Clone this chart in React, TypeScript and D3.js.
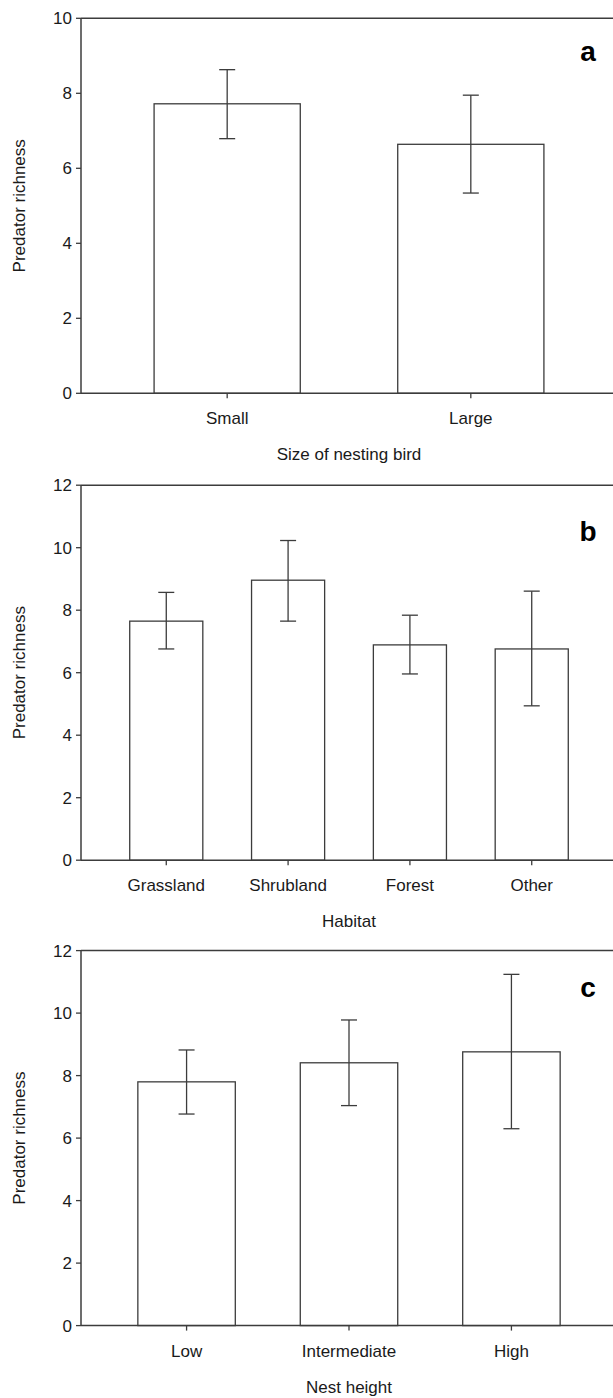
import React from "react";
import * as d3 from "d3";

// ---- Data ----
const sizeCategories = ["Small", "Large"];
const sizeMeans = [7.72, 6.64];
const sizeLower = [6.79, 5.34];
const sizeUpper = [8.63, 7.95];
const sizeTicks = [0, 2, 4, 6, 8, 10];

const habitatCategories = ["Grassland", "Shrubland", "Forest", "Other"];
const habitatMeans = [7.65, 8.96, 6.89, 6.76];
const habitatLower = [6.76, 7.65, 5.96, 4.94];
const habitatUpper = [8.57, 10.23, 7.84, 8.61];
const habitatTicks = [0, 2, 4, 6, 8, 10, 12];

const heightCategories = ["Low", "Intermediate", "High"];
const heightMeans = [7.8, 8.41, 8.76];
const heightLower = [6.77, 7.04, 6.3];
const heightUpper = [8.82, 9.78, 11.24];
const heightTicks = [0, 2, 4, 6, 8, 10, 12];

const yTitle = "Predator richness";

const FONT = "'Liberation Sans', Arial, Helvetica, sans-serif";
const LINE = "#3c3c3c";
const TEXT = "#1a1a1a";

type PanelProps = {
  top: number;
  categories: string[];
  means: number[];
  lower: number[];
  upper: number[];
  ticks: number[];
  xTitle: string;
  letter: string;
  letterY: number;
  outerPad: number;
};

const LEFT = 81;
const AXIS_W = 536;
const PLOT_H = 375;

function Panel(p: PanelProps) {
  const yMax = p.ticks[p.ticks.length - 1];
  const y = d3.scaleLinear().domain([0, yMax]).range([p.top + PLOT_H, p.top]);
  const x = d3
    .scaleBand<string>()
    .domain(p.categories)
    .range([LEFT, LEFT + AXIS_W])
    .paddingInner(0.4)
    .paddingOuter(p.outerPad);
  const bw = x.bandwidth();
  const y0 = y(0);
  const cap = 8;
  return (
    <g>
      {/* bars */}
      {p.categories.map((c, i) => (
        <rect
          key={"b" + c}
          x={x(c)!}
          y={y(p.means[i])}
          width={bw}
          height={y0 - y(p.means[i])}
          fill="#fff"
          stroke={LINE}
          strokeWidth={1.3}
        />
      ))}
      {/* error bars */}
      {p.categories.map((c, i) => {
        const cx = x(c)! + bw / 2;
        return (
          <g key={"e" + c} stroke={LINE} strokeWidth={1.3}>
            <line x1={cx} x2={cx} y1={y(p.lower[i])} y2={y(p.upper[i])} />
            <line x1={cx - cap} x2={cx + cap} y1={y(p.upper[i])} y2={y(p.upper[i])} />
            <line x1={cx - cap} x2={cx + cap} y1={y(p.lower[i])} y2={y(p.lower[i])} />
          </g>
        );
      })}
      {/* frame lines */}
      <line x1={LEFT} x2={LEFT + AXIS_W + 10} y1={p.top} y2={p.top} stroke={LINE} strokeWidth={1.5} />
      <line x1={LEFT} x2={LEFT + AXIS_W + 10} y1={y0} y2={y0} stroke={LINE} strokeWidth={1.5} />
      <line x1={LEFT} x2={LEFT} y1={p.top} y2={y0} stroke={LINE} strokeWidth={1.5} />
      {/* y ticks */}
      {p.ticks.map((t) => (
        <g key={"yt" + t}>
          <line x1={LEFT - 5} x2={LEFT} y1={y(t)} y2={y(t)} stroke={LINE} strokeWidth={1.3} />
          <text
            x={LEFT - 9}
            y={y(t)}
            dy="0.36em"
            textAnchor="end"
            fontSize={17}
            fontFamily={FONT}
            fill={TEXT}
          >
            {t}
          </text>
        </g>
      ))}
      {/* x ticks */}
      {p.categories.map((c) => {
        const cx = x(c)! + bw / 2;
        return (
          <g key={"xt" + c}>
            <line x1={cx} x2={cx} y1={y0} y2={y0 + 5} stroke={LINE} strokeWidth={1.3} />
            <text
              x={cx}
              y={y0 + 31}
              textAnchor="middle"
              fontSize={17}
              fontFamily={FONT}
              fill={TEXT}
            >
              {c}
            </text>
          </g>
        );
      })}
      {/* titles */}
      <text
        x={LEFT + AXIS_W / 2}
        y={y0 + 67}
        textAnchor="middle"
        fontSize={17}
        fontFamily={FONT}
        fill={TEXT}
      >
        {p.xTitle}
      </text>
      <text
        transform={`translate(25, ${p.top + PLOT_H / 2}) rotate(-90)`}
        textAnchor="middle"
        fontSize={17}
        fontFamily={FONT}
        fill={TEXT}
      >
        {yTitle}
      </text>
      <text
        x={588}
        y={p.letterY}
        textAnchor="middle"
        fontSize={28}
        fontWeight="bold"
        fontFamily={FONT}
        fill="#000"
      >
        {p.letter}
      </text>
    </g>
  );
}

export default function App() {
  return (
    <svg
      width={613}
      height={1398}
      style={{ position: "absolute", left: 0, top: 0, background: "#fff" }}
    >
      <rect x={0} y={0} width={613} height={1398} fill="#fff" />
      <Panel
        top={18.3}
        categories={sizeCategories}
        means={sizeMeans}
        lower={sizeLower}
        upper={sizeUpper}
        ticks={sizeTicks}
        xTitle="Size of nesting bird"
        letter="a"
        letterY={61}
        outerPad={0.3}
      />
      <Panel
        top={485.2}
        categories={habitatCategories}
        means={habitatMeans}
        lower={habitatLower}
        upper={habitatUpper}
        ticks={habitatTicks}
        xTitle="Habitat"
        letter="b"
        letterY={541}
        outerPad={0.4}
      />
      <Panel
        top={950.6}
        categories={heightCategories}
        means={heightMeans}
        lower={heightLower}
        upper={heightUpper}
        ticks={heightTicks}
        xTitle="Nest height"
        letter="c"
        letterY={997}
        outerPad={0.35}
      />
    </svg>
  );
}
